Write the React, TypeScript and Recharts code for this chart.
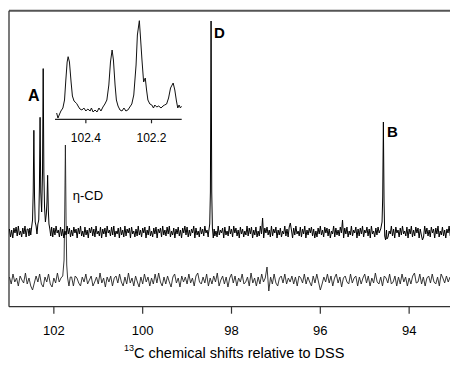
import React from 'react';
import { ComposedChart, LineChart, Line, XAxis, YAxis, ReferenceLine } from 'recharts';

const FONT = '"Liberation Sans", Arial, Helvetica, sans-serif';

// ---- main axis ----
const mainTicks = [102, 100, 98, 96, 94];
const mainDomain: [number, number] = [93.08, 103.01];
const intensityDomain: [number, number] = [-26.7, 269.3];
const upperOffset = 48;

// ---- upper spectrum (complex): baseline noise sampled on a regular ppm grid ----
const upperGridStart = 103.0;
const upperGridStep = 0.025;
const upperNoise = [
  3, -5, 2, -6, 4, -1, 5, -4, 6, -3, 1, -5, 4, -2, 6, -5, 3, -4, 2, -6,
  5, -2, 4, -6, 1, -4, 6, -3, 2, -5, 4, -1, 5, -6, 3, -2, 6, -4, 1, -5,
  4, -3, 6, -1, 2, -5, 5, -4, 3, -6, 1, -3, 6, -2, 4, -5, 2, -4, 5, -1,
  3, -6, 4, -2, 6, -4, 1, -5, 5, -3, 2, -6, 4, -1, 5, -4, 3, -5, 6, -2,
  1, -4, 5, -6, 3, -2, 4, -5, 6, -1, 2, -4, 5, -3, 6, -5, 1, -2, 4, -6,
  5, -3, 2, -5, 6, -4, 3, -1, 4, -6, 5, -2, 1, -5, 3, -4, 6, -3, 2, -5,
  4, -1, 5, -6, 2, -3, 6, -4, 1, -5, 4, -2, 5, -6, 3, -1, 4, -5, 6, -3,
  2, -4, 5, -2, 6, -5, 1, -3, 4, -6, 3, -2, 5, -4, 2, -6, 4, -1, 6, -3,
  5, -5, 2, -4, 3, -1, 6, -6, 4, -3, 1, -5, 5, -2, 3, -4, 6, -1, 2, -5,
  4, -6, 3, -2, 5, -4, 1, -5, 6, -3, 2, -1, 4, -6, 5, -3, 1, -4, 6, -2,
  3, -5, 6, -1, 4, -4, 2, -6, 5, -2, 3, -5, 1, -3, 6, -4, 4, -2, 5, -6,
  2, -3, 5, -5, 1, -4, 6, -2, 14, -6, 4, -1, 5, -3, 2, -5, 6, -4, 3, -1,
  5, -6, 2, -3, 4, -5, 1, -2, 6, -4, 3, -5, 5, 9, 2, -6, 4, -3, 6, -2,
  1, -4, 5, -5, 3, -2, 6, -6, 2, -3, 4, -1, 5, -4, 3, -6, 1, -5, 4, -2,
  6, -3, 2, -5, 5, -1, 4, -4, 3, -6, 1, -2, 6, -5, 4, -3, 2, -4, 5, -1,
  12, -6, 4, -2, 5, -5, 1, -3, 6, -4, 2, -1, 5, -6, 3, -4, 4, -2, 6, -5,
  2, -1, 5, -4, 3, -6, 6, -2, 1, -5, 4, -3, 5, -1, 2, -6, 3, -4, 6, -3,
  -7, -5, 1, -2, 6, -4, 3, -6, 5, -1, 2, -5, 4, -3, 6, -2, 1, -4, 5, -6,
  3, -2, 6, -5, 2, -4, 5, -1, 4, -6, 3, -3, -8, -5, 6, -2, 4, -4, 2, -5,
  5, -1, 3, -6, 4, -2, 6, -5, 1, -3, 5, -4, 2, -6, 3, -1, 6, -4,
];
// peak cluster A (ppm, intensity above baseline)
const upperClusterA = [
  [102.58, 3], [102.56, -4], [102.54, 4], [102.52, -3], [102.5, 5], [102.48, 12],
  [102.465, 40], [102.45, 101.7], [102.435, 35], [102.42, 10], [102.4, 6], [102.38, -2],
  [102.36, 8], [102.34, 12], [102.325, 45], [102.31, 114.7], [102.295, 40], [102.275, 20],
  [102.255, 60], [102.24, 163.4], [102.225, 60], [102.21, 25], [102.19, 10], [102.17, 18],
  [102.155, 30], [102.14, 56.7], [102.125, 22], [102.11, 8], [102.09, 3], [102.07, -4],
  [102.05, 5], [102.03, -3],
];
const upperPeakD = [
  [98.52, -2], [98.49, 8], [98.475, 40], [98.46, 211], [98.445, 40], [98.43, 4], [98.41, -6], [98.39, 3],
];
const upperPeakB = [
  [94.64, 3], [94.61, 10], [94.595, 35], [94.58, 110], [94.565, 30], [94.55, -4], [94.53, -8], [94.51, 2],
];

// ---- lower spectrum (free eta-CD) ----
const lowerGridStart = 103.0;
const lowerGridStep = 0.04;
const lowerNoise = [
  3, -4, 6, -2, 2, -6, 4, 0, -3, 7, -4, 2, -6, -10, -3, 4, -2, 6, -4, -7,
  3, -2, 6, -4, -7, 2, -3, 7, -2, 0, 4, -3, 6, -4, -2, 3, -6, 4, 2, -3,
  -6, 3, -2, 6, -4, 0, 4, -6, -2, 3, -4, 7, -3, 2, -7, 3, -2, 4, -6, 2,
  4, -3, 6, -2, -6, 3, -4, 7, -3, 2, -6, 4, -2, -7, 3, -4, 6, -2, 3, -6,
  2, -4, 6, -3, 7, -2, -6, 3, -4, 4, -2, -7, 3, 6, -3, 2, -7, 4, -2, 3,
  -4, 6, -3, 2, -6, 4, 7, -2, -4, 3, -3, 6, -6, 2, -4, 4, -2, 7, -6, 0,
  4, -4, 3, -7, 2, 6, -3, 4, -6, 2, -2, 6, -4, -2, 3, -6, 7, -3, 2, -6,
  3, -4, 6, -2, 2, 13, -11, 3, -4, 6, -3, -6, 2, 4, -3, 6, -4, 2, -2, 4,
  -4, 3, -6, 4, 2, -3, 6, -4, 3, -2, -6, 4, -3, 6, -2, -10, -4, 3, -2, 6,
  -3, 4, -6, 2, 6, -3, 3, -7, 2, 4, -2, -4, 6, -3, 2, 4, -6, 3, -4, 2,
  6, -3, 4, -6, 2, -3, 7, -2, -4, 3, -6, 4, 2, -3, 6, -4, -2, 4, -6, 3,
  -4, 6, -2, 3, -6, 2, -4, 4, 7, -3, -2, 6, -4, 3, -6, 2, 4, -3, 6, -2,
  -4, 3, -6, 6, 2, -3, 4, -2, 3,
];
const lowerPeakEtaCD = [
  [101.84, 2], [101.8, 4], [101.77, 20], [101.755, 70], [101.74, 135], [101.725, 60],
  [101.71, 15], [101.69, 2], [101.66, -6], [101.63, 3],
];

// ---- inset (expansion of cluster A) ----
const insetTicks = [102.4, 102.2];
const insetDomain: [number, number] = [102.108, 102.494];
const insetIntensityDomain: [number, number] = [-9.3, 95];
const insetTrace = [
  [102.489, -3], [102.485, -8], [102.48, -4], [102.476, -1], [102.47, 2], [102.465, 10],
  [102.461, 30], [102.457, 48], [102.454, 53.3], [102.45, 48], [102.445, 28], [102.441, 14],
  [102.436, 9], [102.428, 6.5], [102.422, 3], [102.418, 1], [102.412, 0], [102.406, 2],
  [102.4, -1], [102.394, 1], [102.387, -1], [102.383, 2], [102.378, -2], [102.372, 0],
  [102.366, -2], [102.36, 2], [102.354, -1], [102.348, 3], [102.342, 6], [102.336, 10],
  [102.33, 25], [102.325, 48], [102.32, 60], [102.316, 50], [102.311, 25], [102.307, 10],
  [102.302, 4], [102.296, 0], [102.29, -1], [102.284, 2], [102.278, -1], [102.272, 0],
  [102.266, 3], [102.26, 6], [102.254, 15], [102.247, 45], [102.243, 75], [102.237, 89.3],
  [102.234, 75], [102.229, 50], [102.224, 28], [102.219, 32], [102.215, 20], [102.211, 10],
  [102.205, 6], [102.199, 5], [102.194, 2], [102.19, 5], [102.184, 3], [102.178, 4],
  [102.171, 2], [102.165, 4], [102.16, 5], [102.154, 6], [102.148, 12], [102.142, 22],
  [102.134, 27], [102.129, 20], [102.124, 9], [102.12, 2], [102.116, 5], [102.112, 2],
  [102.108, 4],
];

type Pt = { ppm: number; v: number };

function buildTrace(start: number, step: number, noise: number[], peaks: number[][][], offset: number): Pt[] {
  const windows = peaks.map((p) => {
    const xs = p.map((q) => q[0]);
    return [Math.min(...xs), Math.max(...xs)];
  });
  const pts: Pt[] = noise
    .map((v, i) => ({ ppm: +(start - i * step).toFixed(4), v }))
    .filter((p) => !windows.some(([lo, hi]) => p.ppm >= lo - 1e-6 && p.ppm <= hi + 1e-6));
  peaks.forEach((pk) => pk.forEach(([ppm, v]) => pts.push({ ppm, v })));
  pts.sort((a, b) => b.ppm - a.ppm);
  return pts.map((p) => ({ ppm: p.ppm, v: p.v + offset }));
}

const upperData = buildTrace(upperGridStart, upperGridStep, upperNoise, [upperClusterA, upperPeakD, upperPeakB], upperOffset);
const lowerData = buildTrace(lowerGridStart, lowerGridStep, lowerNoise, [lowerPeakEtaCD], 0);
const insetData = insetTrace.map(([ppm, v]) => ({ ppm, v }));

const labelStyle = (left: number, top: number, size: number, bold: boolean): React.CSSProperties => ({
  position: 'absolute',
  left,
  top,
  fontSize: size,
  lineHeight: 1,
  fontWeight: bold ? 'bold' : 'normal',
  fontFamily: FONT,
  color: '#000',
  whiteSpace: 'nowrap',
});

export default function App() {
  return (
    <div style={{ position: 'absolute', left: 0, top: 0, width: 450, height: 365, background: '#fff', overflow: 'hidden' }}>
      <ComposedChart width={450} height={365} margin={{ top: 10.7, right: 0, bottom: 28.3, left: 9 }}>
        <XAxis
          xAxisId="main"
          dataKey="ppm"
          type="number"
          domain={mainDomain}
          reversed
          allowDataOverflow
          ticks={mainTicks}
          interval={0}
          height={30}
          tickSize={7}
          tickMargin={12}
          axisLine={{ stroke: '#333', strokeWidth: 1.2 }}
          tickLine={{ stroke: '#333', strokeWidth: 1.2 }}
          tick={{ fontSize: 13, fill: '#000', fontFamily: FONT }}
        />
        <YAxis yAxisId="y" type="number" domain={intensityDomain} allowDataOverflow hide />
        <ReferenceLine xAxisId="main" yAxisId="y" y={intensityDomain[1]} stroke="#555" strokeWidth={2} />
        <ReferenceLine xAxisId="main" yAxisId="y" x={mainDomain[1]} stroke="#333" strokeWidth={1.3} />
        <Line
          data={lowerData}
          dataKey="v"
          xAxisId="main"
          yAxisId="y"
          type="linear"
          stroke="#222"
          strokeWidth={0.9}
          dot={false}
          activeDot={false}
          isAnimationActive={false}
        />
        <Line
          data={upperData}
          dataKey="v"
          xAxisId="main"
          yAxisId="y"
          type="linear"
          stroke="#000"
          strokeWidth={1}
          dot={false}
          activeDot={false}
          isAnimationActive={false}
        />
      </ComposedChart>

      <div style={{ position: 'absolute', left: 0, top: 0, pointerEvents: 'none' }}>
        <LineChart width={200} height={160} margin={{ top: 15, right: 18.3, bottom: 10.7, left: 55 }}>
          <XAxis
            dataKey="ppm"
            type="number"
            domain={insetDomain}
            reversed
            allowDataOverflow
            ticks={insetTicks}
            interval={0}
            tickFormatter={(v: number) => v.toFixed(1)}
            height={30}
            tickSize={4}
            tickMargin={10}
            axisLine={{ stroke: '#222', strokeWidth: 1.2 }}
            tickLine={{ stroke: '#222', strokeWidth: 1.2 }}
            tick={{ fontSize: 12, fill: '#000', fontFamily: FONT }}
          />
          <YAxis hide type="number" domain={insetIntensityDomain} allowDataOverflow />
          <Line
            data={insetData}
            dataKey="v"
            type="linear"
            stroke="#111"
            strokeWidth={1}
            dot={false}
            activeDot={false}
            isAnimationActive={false}
          />
        </LineChart>
      </div>

      <div style={labelStyle(28, 88, 16, true)}>A</div>
      <div style={labelStyle(214, 24.7, 15, true)}>D</div>
      <div style={labelStyle(387, 124, 15, true)}>B</div>
      <div style={labelStyle(72.7, 188.8, 13, false)}>η-CD</div>
      <div style={{ ...labelStyle(124, 346, 14.5, false) }}>
        <span style={{ fontSize: 9, position: 'relative', top: -7 }}>13</span>C chemical shifts relative to DSS
      </div>
    </div>
  );
}
